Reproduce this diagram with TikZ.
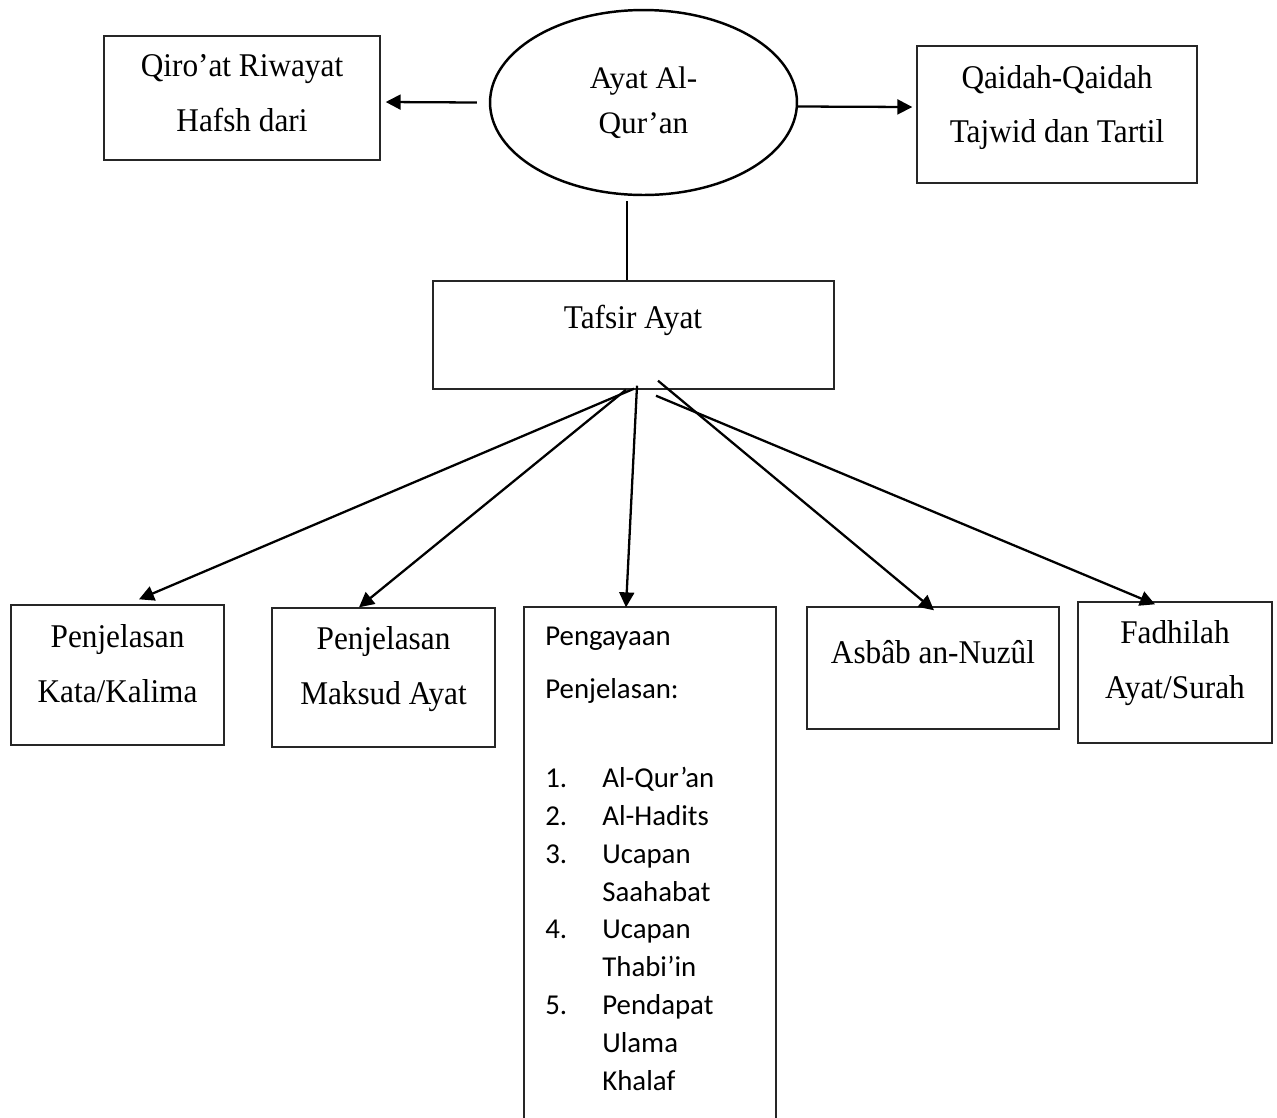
\documentclass[tikz,border=0pt]{standalone}
\usepackage{fontspec}
\setmainfont{Liberation Serif}
\newfontfamily\calibri{Carlito}
\usetikzlibrary{arrows.meta,positioning,shapes.geometric,fit}

\newcommand\nr[1]{\makebox[1.14cm][l]{#1}}

\begin{document}
\begin{tikzpicture}[
  x=0.02cm, y=-0.02cm,
  >={Triangle[length=8.5pt,width=8.5pt]},
  box/.style={draw=black!85, line width=0.8pt, inner sep=0pt},
  txt/.style={align=center, yscale=1.06, transform shape,
    font=\fontsize{17.8}{29.5}\selectfont},
  lst/.style={align=left, anchor=base west, inner sep=0pt,
    font=\calibri\fontsize{16.4}{21.5}\selectfont},
  arr/.style={->, line width=1.3pt},
]
  \useasboundingbox (0,0) rectangle (1277,1117);

  % top row
  \node[draw, ellipse, line width=1.4pt, minimum width=6.14cm, minimum height=3.7cm,
    inner sep=0pt, align=center, font=\fontsize{17.8}{25.5}\selectfont]
    (ayat) at (643.5,102.5) {Ayat Al-\\Qur’an};

  \node[box, fit={(104,36) (380,160)}] (qiro) {};
  \node[txt] (qirotxt) at (242,93) {Qiro’at Riwayat\\Hafsh dari};

  \node[box, fit={(917,46) (1197,183)}] (qaidah) {};
  \node[txt] (qaidahtxt) at (1057,107.5) {Qaidah-Qaidah\\Tajwid dan Tartil};

  \node[box, fit={(433,281) (834,389)}] (tafsir) {};
  \node[txt] (tafsirtxt) at (633,320) {Tafsir Ayat};

  % bottom row
  \node[box, fit={(11,605) (224,745)}] (kata) {};
  \node[txt] (katatxt) at (117.5,663.5) {Penjelasan\\Kata/Kalima};

  \node[box, fit={(272,608) (495,747)}] (maksud) {};
  \node[txt] (maksudtxt) at (383.5,669.5) {Penjelasan\\Maksud Ayat};

  \node[box, fit={(524,607) (776,1125)}] (peng) {};
  % base of the list is its last line
  \node[lst] (pengtxt) at (545,1090) {Pengayaan\\[8.5pt]
    Penjelasan:\\[29.5pt]
    \nr{1.}Al-Qur’an\\
    \nr{2.}Al-Hadits\\
    \nr{3.}Ucapan\\
    \nr{}Saahabat\\
    \nr{4.}Ucapan\\
    \nr{}Thabi’in\\
    \nr{5.}Pendapat\\
    \nr{}Ulama\\
    \nr{}Khalaf};

  \node[box, fit={(807,607) (1059,729)}] (asbab) {};
  \node[txt] (asbabtxt) at (933,652) {Asbâb an-Nuzûl};

  \node[box, fit={(1078,602) (1272,743)}] (fadh) {};
  \node[txt] (fadhtxt) at (1175,663.5) {Fadhilah\\Ayat/Surah};

  % connectors
  \draw[arr] ([shift={(-12,0)}]ayat.west) -- ([shift={(5,4)}]qiro.east);
  \draw[arr] ([shift={(0,4)}]ayat.east) -- ([shift={(-4,-7.5)}]qaidah.west);
  \draw[line width=1.3pt] ([shift={(-16.5,5)}]ayat.south) -- ([shift={(-6.5,0)}]tafsir.north);

  \draw[arr] ([shift={(0.5,-1)}]tafsir.south) -- ([shift={(21.5,-5)}]kata.north);
  \draw[arr] ([shift={(-7.5,0)}]tafsir.south) -- ([shift={(-24.5,0)}]maksud.north);
  \draw[arr] ([shift={(3.5,-4)}]tafsir.south) -- ([shift={(-24,1)}]peng.north);
  \draw[arr] ([shift={(24.5,-9)}]tafsir.south) -- ([shift={(1,4)}]asbab.north);
  \draw[arr] ([shift={(22.5,6)}]tafsir.south) -- ([shift={(-20,3)}]fadh.north);
\end{tikzpicture}
\end{document}
